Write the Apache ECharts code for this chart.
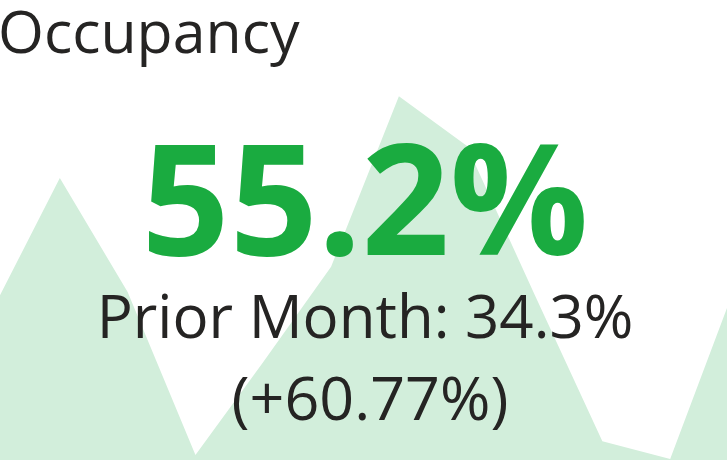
<!DOCTYPE html>
<html>
<head>
<meta charset="utf-8">
<title>Occupancy</title>
<script src="https://cdn.jsdelivr.net/npm/echarts@6/dist/echarts.min.js"></script>
<style>
	html, body { margin:0; padding:0; background:#fff; }
	#occupancyCard { width:727px; height:469px; }
</style>
</head>
<body>
<div id="occupancyCard"></div>
<script>
/*月度入住率（背景面积图）*/
var months = ['Jan', 'Feb', 'Mar', 'Apr', 'May', 'Jun', 'Jul', 'Aug', 'Sep', 'Oct', 'Nov', 'Dec'];
var occupancy = [32.4, 61.3, 36.5, 1.1, 21.3, 42.0, 79.1, 68.3, 36.0, 4.1, 0.2, 39.4];

/*卡片文字*/
var cardTitle = 'Occupancy';
var currentValue = '55.2%';
var priorLabel = 'Prior Month: 34.3%';
var changeLabel = '(+60.77%)';

var FONT = '"Open Sans", "Noto Sans", sans-serif';

window.onload = function(){
	occupancyCard();
};

function occupancyCard(){
	var cardChart = echarts.init(document.getElementById('occupancyCard'));
	var cardOption = {
		animation : false,
		grid : {
			left : -8,
			right : -11,
			top : 0,
			bottom : 9,
			outerBoundsMode : 'none'
		},
		xAxis : {
			type : 'category',
			boundaryGap : false,
			show : false,
			data : months
		},
		yAxis : {
			type : 'value',
			min : 0,
			max : 100,
			show : false
		},
		series : [ {
			name : 'Occupancy',
			type : 'line',
			data : occupancy,
			symbol : 'none',
			silent : true,
			z : 1,
			lineStyle : { width : 0 },
			areaStyle : { color : '#d2eedb', opacity : 1 }
		} ],
		graphic : [ {
			type : 'text',
			left : -2,
			top : 7,
			z : 100,
			style : {
				text : cardTitle,
				font : '59px ' + FONT,
				fill : '#252423'
			}
		}, {
			type : 'text',
			x : 365,
			y : 211,
			z : 100,
			style : {
				text : currentValue,
				font : 'bold 154px ' + FONT,
				fill : '#1aab40',
				align : 'center',
				verticalAlign : 'middle'
			}
		}, {
			type : 'text',
			x : 365,
			y : 321,
			z : 100,
			style : {
				text : priorLabel,
				font : '60px ' + FONT,
				fill : '#252423',
				align : 'center',
				verticalAlign : 'middle'
			}
		}, {
			type : 'text',
			x : 370,
			y : 403,
			z : 100,
			style : {
				text : changeLabel,
				font : '61px ' + FONT,
				fill : '#252423',
				align : 'center',
				verticalAlign : 'middle'
			}
		} ]
	};
	cardChart.setOption(cardOption);
}
</script>
</body>
</html>
